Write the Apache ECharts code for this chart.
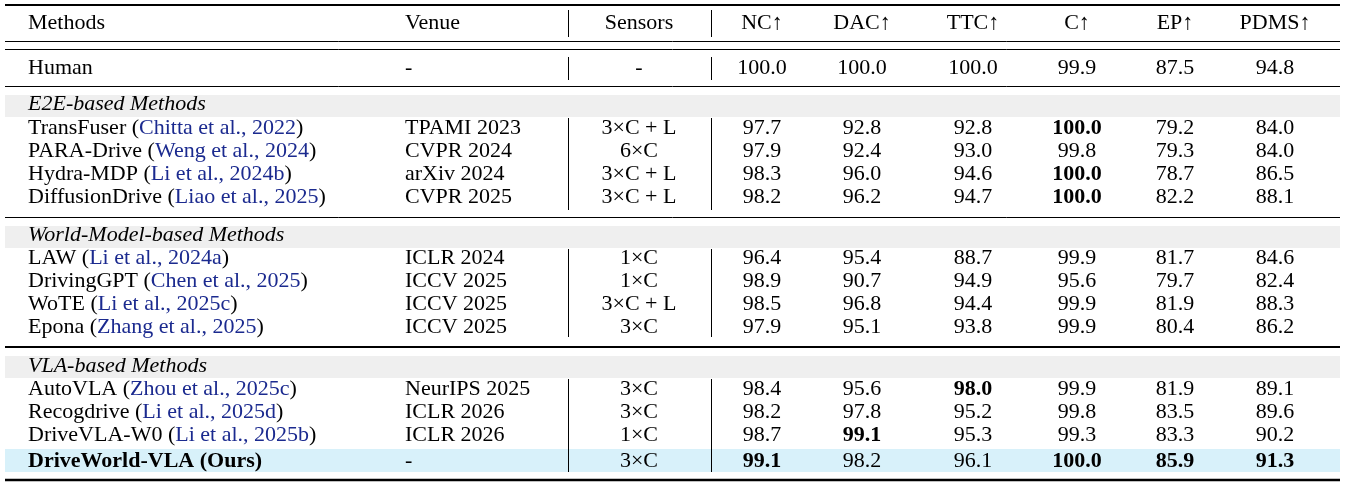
<!DOCTYPE html>
<html><head><meta charset="utf-8">
<script src="https://cdn.jsdelivr.net/npm/echarts@6/dist/echarts.min.js"></script>
<style>html,body{margin:0;background:#fff}#c{width:1347px;height:486px}</style>
</head><body><div id="c"></div>
<script>
const headers = ['Methods','Venue','Sensors','NC↑','DAC↑','TTC↑','C↑','EP↑','PDMS↑'];
const sections = ['E2E-based Methods','World-Model-based Methods','VLA-based Methods'];
const methods = ['Human','TransFuser','PARA-Drive','Hydra-MDP','DiffusionDrive','LAW','DrivingGPT','WoTE','Epona','AutoVLA','Recogdrive','DriveVLA-W0','DriveWorld-VLA (Ours)'];
const cites = ['','Chitta et al., 2022','Weng et al., 2024','Li et al., 2024b','Liao et al., 2025','Li et al., 2024a','Chen et al., 2025','Li et al., 2025c','Zhang et al., 2025','Zhou et al., 2025c','Li et al., 2025d','Li et al., 2025b',''];
const venues = ['-','TPAMI 2023','CVPR 2024','arXiv 2024','CVPR 2025','ICLR 2024','ICCV 2025','ICCV 2025','ICCV 2025','NeurIPS 2025','ICLR 2026','ICLR 2026','-'];
const sensors = ['-','3×C + L','6×C','3×C + L','3×C + L','1×C','1×C','3×C + L','3×C','3×C','3×C','1×C','3×C'];
const NC   = ['100.0','97.7','97.9','98.3','98.2','96.4','98.9','98.5','97.9','98.4','98.2','98.7','99.1'];
const DAC  = ['100.0','92.8','92.4','96.0','96.2','95.4','90.7','96.8','95.1','95.6','97.8','99.1','98.2'];
const TTC  = ['100.0','92.8','93.0','94.6','94.7','88.7','94.9','94.4','93.8','98.0','95.2','95.3','96.1'];
const Cc   = ['99.9','100.0','99.8','100.0','100.0','99.9','95.6','99.9','99.9','99.9','99.8','99.3','100.0'];
const EP   = ['87.5','79.2','79.3','78.7','82.2','81.7','79.7','81.9','80.4','81.9','83.5','83.3','85.9'];
const PDMS = ['94.8','84.0','84.0','86.5','88.1','84.6','82.4','88.3','86.2','89.1','89.6','90.2','91.3'];
// bold cells: [rowIndex, metricColumn]
const boldCells = [[1,'C'],[3,'C'],[4,'C'],[9,'TTC'],[11,'DAC'],[12,'NC'],[12,'C'],[12,'EP'],[12,'PDMS']];

// layout
const rowY = [68,128,151,174,197,258,281,304,327,389,412,435,461];
const headerY = 23, sectionY = [104,235,366];
const colX = {Methods:28, Venue:405, Sensors:639, NC:762, DAC:862, TTC:973, C:1077, EP:1175, PDMS:1275};
const metricCols = {NC, DAC, TTC, C:Cc, EP, PDMS};
const F = "'Liberation Serif','DejaVu Serif',serif", FS = 22;

const texts = [];
const hdrKeys = Object.keys(colX);
headers.forEach((h,i)=>texts.push({x:colX[hdrKeys[i]], y:headerY, t:h, align:i<2?'left':'center'}));
sections.forEach((s,i)=>texts.push({x:28, y:sectionY[i], t:s, align:'left', italic:true}));
methods.forEach((m,r)=>{
  const bold = r===methods.length-1;
  texts.push({x:colX.Methods, y:rowY[r], t: cites[r] ? `{n|${m} (}{c|${cites[r]}}{n|)}` : (bold?`{b|${m}}`:`{n|${m}}`), align:'left'});
  texts.push({x:colX.Venue, y:rowY[r], t:venues[r], align:'left'});
  texts.push({x:colX.Sensors, y:rowY[r], t:sensors[r], align:'center'});
  for (const k in metricCols) {
    const b = boldCells.some(([rr,cc])=>rr===r&&cc===k);
    texts.push({x:colX[k], y:rowY[r], t:metricCols[k][r], align:'center', bold:b});
  }
});

// rules: [x1,y1,x2,y2,width]
const rules = [[5,5,1340,5,2],[5,41.5,1340,41.5,1],[5,49.5,1340,49.5,1],[5,86.5,1340,86.5,1],[5,217.5,1340,217.5,1],[5,347,1340,347,2],[5,480,1340,480,2.5]];
const vBlocks = [[10,37],[57,80],[118,210],[249,337],[379,472]];
vBlocks.forEach(([a,b])=>{rules.push([568.5,a,568.5,b,1]);rules.push([711.5,a,711.5,b,1]);});
const bands = [[5,95,1340,117,'#efefef'],[5,226,1340,248,'#efefef'],[5,356,1340,378,'#efefef'],[5,449,1340,472,'#d8f1fa']];

const chart = echarts.init(document.getElementById('c'));
chart.setOption({
  animation:false,
  grid:{left:0,right:0,top:0,bottom:0},
  xAxis:{type:'value',min:0,max:1347,show:false},
  yAxis:{type:'value',min:0,max:486,inverse:true,show:false},
  series:[
    {type:'custom', data:bands.map((b,i)=>i), z:1, renderItem:(p,api)=>{
      const b=bands[api.value(0)]; const a=api.coord([b[0],b[1]]), c=api.coord([b[2],b[3]]);
      return {type:'rect',shape:{x:a[0],y:a[1],width:c[0]-a[0],height:c[1]-a[1]},style:{fill:b[4]}};
    }},
    {type:'custom', data:rules.map((r,i)=>i), z:2, renderItem:(p,api)=>{
      const r=rules[api.value(0)]; const a=api.coord([r[0],r[1]]), c=api.coord([r[2],r[3]]);
      return {type:'line',shape:{x1:a[0],y1:a[1],x2:c[0],y2:c[1]},style:{stroke:'#000',lineWidth:r[4]}};
    }},
    {type:'custom', data:texts.map((t,i)=>i), z:3, renderItem:(p,api)=>{
      const t=texts[api.value(0)]; const a=api.coord([t.x,t.y]);
      return {type:'text',x:a[0],y:a[1],style:{text:t.t,x:0,y:0,align:t.align,verticalAlign:'middle',
        font:`${t.italic?'italic ':''}${t.bold?'bold ':''}${FS}px ${F}`,fill:'#000',
        rich:{n:{fontFamily:F,fontSize:FS,fill:'#000'},c:{fontFamily:F,fontSize:FS,fill:'#1b2a8f'},b:{fontFamily:F,fontSize:FS,fontWeight:'bold',fill:'#000'}}}};
    }}
  ]
});
</script></body></html>
